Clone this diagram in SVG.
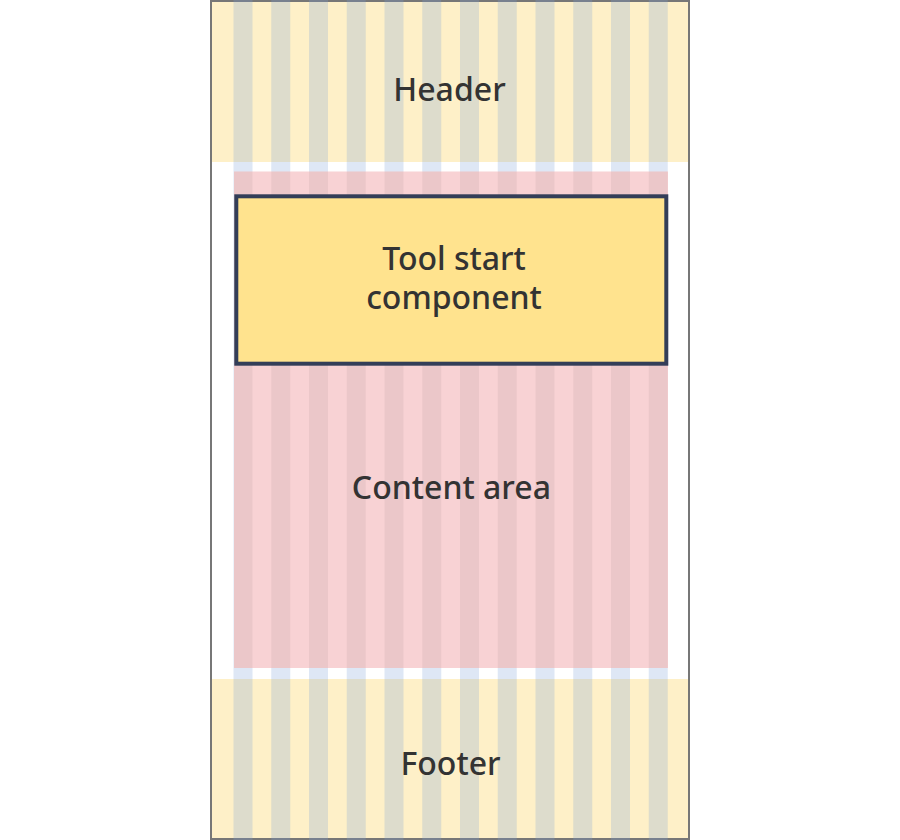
<svg xmlns="http://www.w3.org/2000/svg" width="900" height="840" viewBox="0 0 900 840">
  <style>
    .bg-yellow { fill: #fef0c8; }
    .bg-pink { fill: #f8d2d4; }
    .col { fill: #7d9fd6; fill-opacity: 0.25; }
    .col-pink { fill: #000000; fill-opacity: 0.05; }
    .frame { fill: #ffffff; stroke: #777777; stroke-width: 2; }
    .box { fill: #ffe38e; stroke: #333e58; stroke-width: 4; }
    .label { font-family: "Noto Sans", "Open Sans", "Liberation Sans", sans-serif; font-weight: 500; font-size: 32px; fill: #333333; text-anchor: middle; }
  </style>
  <rect width="900" height="840" fill="#ffffff"/>
  <g id="frame">
    <rect class="frame" x="211" y="1" width="478" height="838"/>
  </g>
  <g id="header">
    <rect class="bg-yellow" x="212" y="2" width="476" height="160"/>
  </g>
  <g id="footer">
    <rect class="bg-yellow" x="212" y="679" width="476" height="159"/>
  </g>
  <g id="grid-columns">
    <rect class="col" x="233.5" y="0" width="19" height="840"/>
    <rect class="col" x="271.25" y="0" width="19" height="840"/>
    <rect class="col" x="309" y="0" width="19" height="840"/>
    <rect class="col" x="346.75" y="0" width="19" height="840"/>
    <rect class="col" x="384.5" y="0" width="19" height="840"/>
    <rect class="col" x="422.25" y="0" width="19" height="840"/>
    <rect class="col" x="460" y="0" width="19" height="840"/>
    <rect class="col" x="497.75" y="0" width="19" height="840"/>
    <rect class="col" x="535.5" y="0" width="19" height="840"/>
    <rect class="col" x="573.25" y="0" width="19" height="840"/>
    <rect class="col" x="611" y="0" width="19" height="840"/>
    <rect class="col" x="648.75" y="0" width="19" height="840"/>
  </g>
  <g id="content-area">
    <rect class="bg-pink" x="234" y="171.5" width="434" height="496.5"/>
    <rect class="col-pink" x="234" y="171.5" width="18.5" height="496.5"/>
    <rect class="col-pink" x="271.25" y="171.5" width="19" height="496.5"/>
    <rect class="col-pink" x="309" y="171.5" width="19" height="496.5"/>
    <rect class="col-pink" x="346.75" y="171.5" width="19" height="496.5"/>
    <rect class="col-pink" x="384.5" y="171.5" width="19" height="496.5"/>
    <rect class="col-pink" x="422.25" y="171.5" width="19" height="496.5"/>
    <rect class="col-pink" x="460" y="171.5" width="19" height="496.5"/>
    <rect class="col-pink" x="497.75" y="171.5" width="19" height="496.5"/>
    <rect class="col-pink" x="535.5" y="171.5" width="19" height="496.5"/>
    <rect class="col-pink" x="573.25" y="171.5" width="19" height="496.5"/>
    <rect class="col-pink" x="611" y="171.5" width="19" height="496.5"/>
    <rect class="col-pink" x="648.75" y="171.5" width="19" height="496.5"/>
  </g>
  <g id="tool-start">
    <rect class="box" x="236.3" y="196.3" width="430" height="167.4"/>
    <text class="label" x="454" y="269.5">Tool start</text>
    <text class="label" x="454" y="309.3">component</text>
  </g>
  <g id="labels">
    <text class="label" x="449.5" y="100.5">Header</text>
    <text class="label" x="451.4" y="498.5">Content area</text>
    <text class="label" x="450.5" y="775">Footer</text>
  </g>
  <g id="connectors"></g>
</svg>
